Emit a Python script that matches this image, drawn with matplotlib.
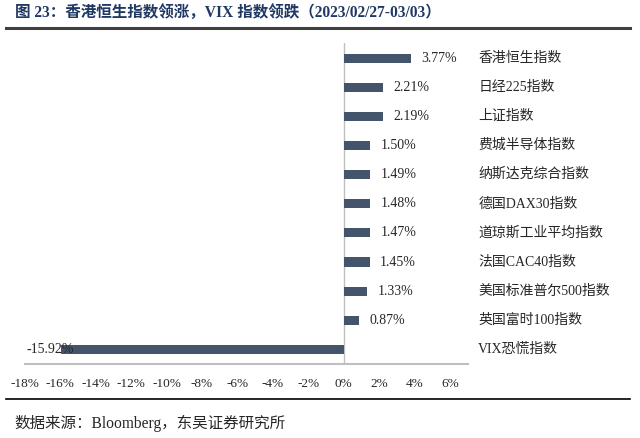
import matplotlib
matplotlib.use("Agg")
import matplotlib.pyplot as plt
from matplotlib.lines import Line2D

plt.rcParams['font.family'] = ['Liberation Serif', 'Noto Sans CJK SC', 'DejaVu Sans']

# data, top to bottom as in the chart
names = ["香港恒生指数", "日经225指数", "上证指数", "费城半导体指数", "纳斯达克综合指数",
         "德国DAX30指数", "道琼斯工业平均指数", "法国CAC40指数", "美国标准普尔500指数",
         "英国富时100指数", "VIX恐慌指数"]
changes = [3.77, 2.21, 2.19, 1.50, 1.49, 1.48, 1.47, 1.45, 1.33, 0.87, -15.92]
xticks = [-18, -16, -14, -12, -10, -8, -6, -4, -2, 0, 2, 4, 6]

title = "图 23：香港恒生指数领涨，VIX 指数领跌（2023/02/27-03/03）"
source = "数据来源：Bloomberg，东吴证券研究所"

barColor = "#44546A"
axisGray = "#BFBFBF"

fig = plt.figure(figsize=(6.4, 4.38), dpi=100)
ax = fig.add_axes([0.0383, 0.169, 0.693, 0.7317])

ypos = list(range(len(names) - 1, -1, -1))
ax.barh(ypos, changes, height=0.31, color=barColor, zorder=2)

ax.set_xlim(-18, 7)
ax.set_ylim(-0.5, len(names) - 0.5)

for y, v, name in zip(ypos, changes, names):
    label = "%.2f%%" % v
    if v >= 0:
        ax.annotate(label, (v, y), xytext=(7.5, 0), textcoords="offset points",
                    ha="left", va="center", fontsize=10, color="#262626")
    else:
        ax.annotate(label, (v, y), xytext=(9, 0), textcoords="offset points",
                    ha="right", va="center", fontsize=10, color="#262626", zorder=3)
    ax.text(1.023, y, name, transform=ax.get_yaxis_transform(),
            ha="left", va="center", fontsize=10, color="#262626")

# axes: only the zero line and the bottom line
for side in ["top", "right", "left"]:
    ax.spines[side].set_visible(False)
ax.spines["bottom"].set_color(axisGray)
ax.spines["bottom"].set_linewidth(1.5)
ax.axvline(0, color=axisGray, linewidth=1.0, zorder=1)

ax.set_yticks([])
ax.set_xticks(xticks)
ax.set_xticklabels(["%d%%" % t for t in xticks], fontsize=9.5, color="#262626")
ax.tick_params(axis="x", length=0, pad=10)

# title and rules
fig.text(0.024, 0.970, title, fontsize=11.2, fontweight="bold", color="#203864",
         ha="left", va="center")
fig.add_artist(Line2D([0.009, 0.985], [0.936, 0.936], color="#404040", linewidth=2.2))
fig.add_artist(Line2D([0.009, 0.985], [0.089, 0.089], color="#000000", linewidth=1.2))
fig.text(0.023, 0.034, source, fontsize=11.2, color="#262626", ha="left", va="center")

fig.savefig("out.png", dpi=100)
